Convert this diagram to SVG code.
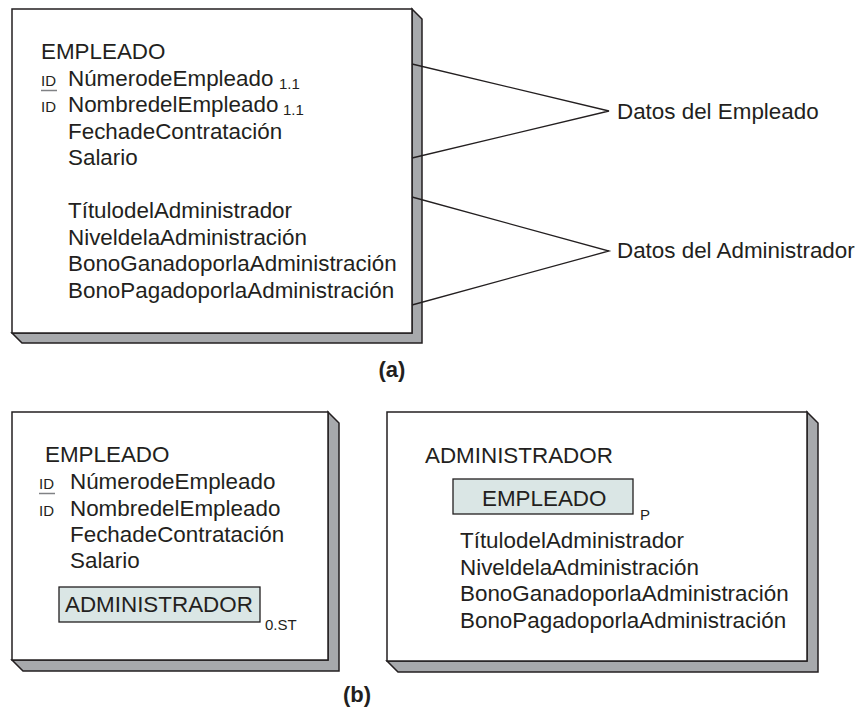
<svg xmlns="http://www.w3.org/2000/svg" width="865" height="711" viewBox="0 0 865 711">
<style>
.front{fill:#ffffff;stroke:#231f20;stroke-width:1.5}
.shadow{fill:#a7a9ac;stroke:#231f20;stroke-width:1.5;stroke-linejoin:miter}
.inner{fill:#dae6e5;stroke:#231f20;stroke-width:1.3}
text{font-family:"Liberation Sans",Arial,sans-serif;fill:#231f20}
.t{font-size:22.4px}
.s{font-size:15px}
.id{font-size:15px}
.lbl{font-size:22px;font-weight:bold}
.conn{fill:none;stroke:#231f20;stroke-width:1.3}
.ul{stroke:#808285;stroke-width:1.5}
</style>
<rect width="865" height="711" fill="#ffffff"/>

<g id="empleado-a">
  <polygon class="shadow" points="412,9 422,19 422,343 22,343 12,333 412,333"/>
  <rect class="front" x="12" y="9" width="400" height="324"/>
  <text class="t" x="41" y="59">EMPLEADO</text>
  <text class="id" x="41" y="86">ID</text>
  <line class="ul" x1="41" y1="90.5" x2="57" y2="90.5"/>
  <text class="t" x="68" y="86">NúmerodeEmpleado</text>
  <text class="s" x="279" y="89">1.1</text>
  <text class="id" x="41" y="112">ID</text>
  <text class="t" x="68" y="112">NombredelEmpleado</text>
  <text class="s" x="283" y="115">1.1</text>
  <text class="t" x="68" y="138.5">FechadeContratación</text>
  <text class="t" x="68" y="165">Salario</text>
  <text class="t" x="68" y="218">TítulodelAdministrador</text>
  <text class="t" x="68" y="244.5">NiveldelaAdministración</text>
  <text class="t" x="68" y="271">BonoGanadoporlaAdministración</text>
  <text class="t" x="68" y="297.5">BonoPagadoporlaAdministración</text>
</g>

<g id="connectors">
  <polyline class="conn" points="412,64 609,111 412,158"/>
  <polyline class="conn" points="412,197 609,251 412,305"/>
</g>

<g id="datos-empleado">
  <text class="t" x="617" y="119">Datos del Empleado</text>
</g>
<g id="datos-administrador">
  <text class="t" x="617" y="258">Datos del Administrador</text>
</g>

<g id="label-a">
  <text class="lbl" x="392" y="377" text-anchor="middle">(a)</text>
</g>

<g id="empleado-b">
  <polygon class="shadow" points="328,412 339,423 339,671 23,671 12,660 328,660"/>
  <rect class="front" x="12" y="412" width="316" height="248"/>
  <text class="t" x="45" y="462">EMPLEADO</text>
  <text class="id" x="39" y="489">ID</text>
  <line class="ul" x1="39" y1="493.5" x2="55" y2="493.5"/>
  <text class="t" x="70" y="489">NúmerodeEmpleado</text>
  <text class="id" x="39" y="516">ID</text>
  <text class="t" x="70" y="516">NombredelEmpleado</text>
  <text class="t" x="70" y="542">FechadeContratación</text>
  <text class="t" x="70" y="568">Salario</text>
  <rect class="inner" x="59" y="587" width="201" height="35"/>
  <text class="t" x="65" y="612">ADMINISTRADOR</text>
  <text class="s" x="265" y="630">0.ST</text>
</g>

<g id="administrador-b">
  <polygon class="shadow" points="807,412 818,423 818,672 398,672 387,661 807,661"/>
  <rect class="front" x="387" y="412" width="420" height="249"/>
  <text class="t" x="425" y="463">ADMINISTRADOR</text>
  <rect class="inner" x="453" y="479" width="180" height="35"/>
  <text class="t" x="482" y="506">EMPLEADO</text>
  <text class="s" x="640" y="520">P</text>
  <text class="t" x="460" y="548">TítulodelAdministrador</text>
  <text class="t" x="460" y="574.5">NiveldelaAdministración</text>
  <text class="t" x="460" y="601">BonoGanadoporlaAdministración</text>
  <text class="t" x="460" y="627.5">BonoPagadoporlaAdministración</text>
</g>

<g id="label-b">
  <text class="lbl" x="357" y="702" text-anchor="middle">(b)</text>
</g>
</svg>
